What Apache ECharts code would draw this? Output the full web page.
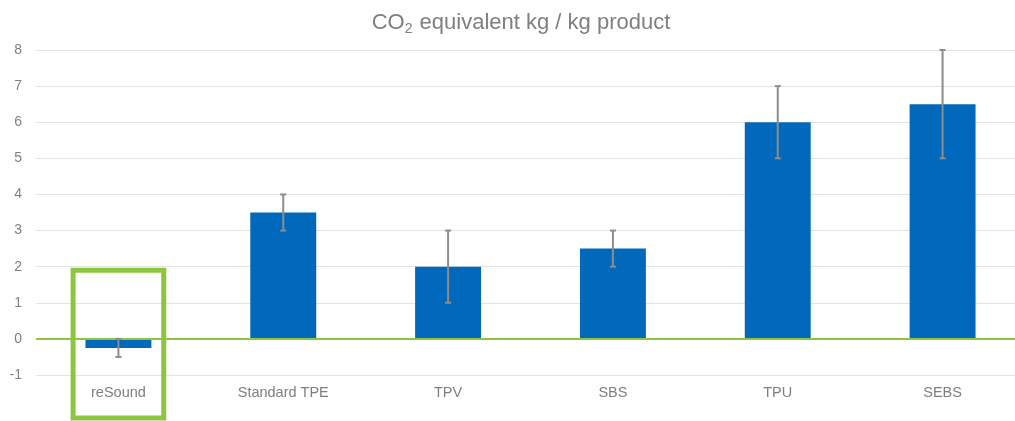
<!DOCTYPE html>
<html>
<head>
<meta charset="utf-8">
<script src="https://cdn.jsdelivr.net/npm/echarts@6/dist/echarts.min.js"></script>
<style>
  html, body { margin: 0; padding: 0; background: #fff; }
  #chart { width: 1015px; height: 421px; }
</style>
</head>
<body>
<div id="chart"></div>
<script>
// data
var categories = ['reSound', 'Standard TPE', 'TPV', 'SBS', 'TPU', 'SEBS'];
var values = [-0.25, 3.5, 2, 2.5, 6, 6.5];
var errLow = [-0.5, 3, 1, 2, 5, 5];
var errHigh = [0, 4, 3, 3, 7, 8];
var yTicks = [-1, 0, 1, 2, 3, 4, 5, 6, 7, 8];
var highlightIndex = 0;   // boxed category
var highlightTop = 1.9;   // top of the green box, in axis units

var font = '"Liberation Sans", Arial, sans-serif';
var chart = echarts.init(document.getElementById('chart'), null, { renderer: 'canvas' });

var errData = categories.map(function (c, i) { return [i, errLow[i], errHigh[i]]; });

chart.setOption({
    animation: false,
    title: {
        text: '{a|CO}{s|2}{a| equivalent kg / kg product}',
        left: 516,
        top: 5,
        textAlign: 'center',
        textStyle: {
            fontWeight: 'normal',
            rich: {
                a: { fontFamily: font, fontSize: 22, color: '#7f7f7f', fontWeight: 'normal' },
                s: { fontFamily: font, fontSize: 14, color: '#7f7f7f', fontWeight: 'normal', padding: [12, 1, 0, 0] }
            }
        }
    },
    // plot runs a little past the right edge, like the original
    grid: { left: 36, width: 989, top: 50, bottom: 46, outerBoundsMode: 'none' },
    xAxis: {
        type: 'category',
        data: categories,
        axisLine: { show: false },
        axisTick: { show: false },
        axisLabel: { color: '#7f7f7f', fontSize: 14.5, fontFamily: font, margin: 10 }
    },
    yAxis: {
        type: 'value',
        min: yTicks[0],
        max: yTicks[yTicks.length - 1],
        interval: 1,
        axisLine: { show: false },
        axisTick: { show: false },
        axisLabel: { color: '#7f7f7f', fontSize: 14, fontFamily: font, margin: 14 },
        splitLine: { lineStyle: { color: '#e3e3e3', width: 1 } }
    },
    series: [
        {
            type: 'bar',
            data: values,
            barWidth: '40%',
            itemStyle: { color: '#0069bb' },
            markLine: {
                silent: true,
                symbol: 'none',
                label: { show: false },
                lineStyle: { color: '#8cc63e', width: 2, type: 'solid' },
                data: [{ yAxis: 0 }]
            }
        },
        {
            type: 'custom',
            data: errData,
            z: 10,
            renderItem: function (params, api) {
                var x = api.value(0);
                var lo = api.coord([x, api.value(1)]);
                var hi = api.coord([x, api.value(2)]);
                var cap = 3;
                var style = { stroke: '#8c8c8c', lineWidth: 2 };
                return {
                    type: 'group',
                    children: [
                        { type: 'line', shape: { x1: lo[0], y1: lo[1], x2: hi[0], y2: hi[1] }, style: style },
                        { type: 'line', shape: { x1: lo[0] - cap, y1: lo[1], x2: lo[0] + cap, y2: lo[1] }, style: style },
                        { type: 'line', shape: { x1: hi[0] - cap, y1: hi[1], x2: hi[0] + cap, y2: hi[1] }, style: style }
                    ]
                };
            }
        }
    ]
});

// green highlight box around the boxed category
var c0 = chart.convertToPixel({ gridIndex: 0 }, [highlightIndex, highlightTop]);
var c1 = chart.convertToPixel({ gridIndex: 0 }, [highlightIndex + 1, highlightTop]);
var half = (c1[0] - c0[0]) * 0.275;
chart.setOption({
    graphic: [{
        type: 'rect',
        silent: true,
        z: 100,
        shape: { x: c0[0] - half, y: c0[1], width: half * 2, height: chart.getHeight() - c0[1] - 3 },
        style: { fill: 'none', stroke: '#8cc63e', lineWidth: 5 }
    }]
});
</script>
</body>
</html>
